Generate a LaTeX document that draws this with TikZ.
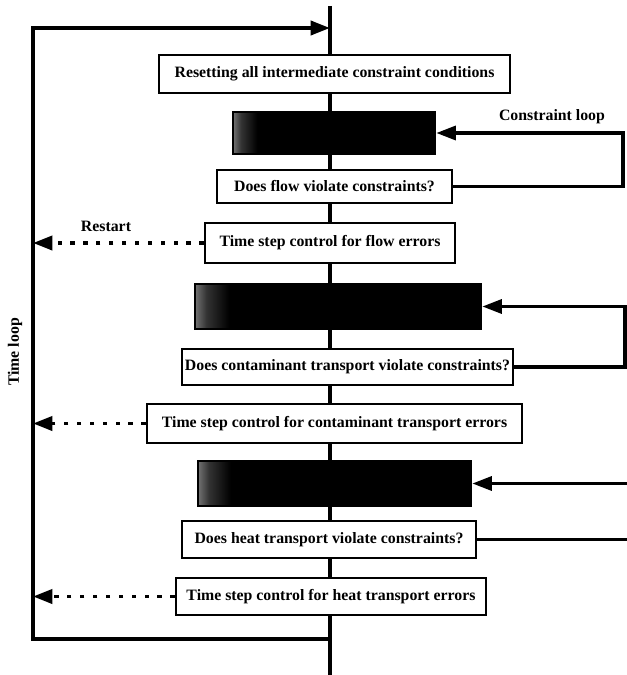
\documentclass[tikz,border=0pt]{standalone}
\usepackage{fontspec}
\setmainfont{Liberation Serif}
\usetikzlibrary{arrows.meta}
\pgfdeclarehorizontalshading{darkbar}{100bp}{color(0bp)=(black!55); color(25bp)=(black!55); color(27bp)=(black!80); color(31bp)=(black); color(100bp)=(black)}

\begin{document}
\begin{tikzpicture}[x=0.03cm, y=-0.03cm,
  every node/.style={font=\fontsize{13.5}{15}\selectfont\bfseries},
  stepbox/.style={draw, line width=2.4pt, fill=white, inner sep=0pt},
  darkbox/.style={draw, line width=2.4pt, shading=darkbar, inner sep=0pt},
  spine/.style={line width=2.6pt},
  loopline/.style={line width=2.6pt},
  restartline/.style={line width=3.2pt, dash pattern=on 3.6pt off 7.4pt},
  tip/.style={-{Triangle[length=0.58cm, width=0.42cm]}}]

\useasboundingbox (0,0) rectangle (627,675);

\coordinate (top) at (330,6);
\coordinate (bottom) at (330,675);
\coordinate (tl) at (33,28);
\coordinate (bl) at (33,639);
\coordinate (r1) at (623,150);
\coordinate (r2) at (625,330);
\coordinate (edge) at (627,500);

\draw[spine] (top) -- (bottom);

\node[stepbox, minimum width=10.53cm, minimum height=1.14cm] (reset) at (334.5,74) {Resetting all intermediate constraint conditions};
\node[darkbox, minimum width=6.06cm, minimum height=1.26cm] (calcflow) at (334,133) {};
\node[stepbox, minimum width=7.05cm, minimum height=0.99cm] (chkflow) at (334.5,186.5) {Does flow violate constraints?};
\node[stepbox, minimum width=7.5cm, minimum height=1.2cm] (dtflow) at (330,243) {Time step control for flow errors};
\node[darkbox, minimum width=8.58cm, minimum height=1.35cm] (calctrans) at (338,306.5) {};
\node[stepbox, minimum width=9.93cm, minimum height=1.08cm] (chktrans) at (347.5,367) {Does contaminant transport violate constraints?};
\node[stepbox, minimum width=11.25cm, minimum height=1.17cm] (dttrans) at (334.5,423.5) {Time step control for contaminant transport errors};
\node[darkbox, minimum width=8.19cm, minimum height=1.35cm] (calcheat) at (334.5,483.5) {};
\node[stepbox, minimum width=8.82cm, minimum height=1.11cm] (chkheat) at (329,539.5) {Does heat transport violate constraints?};
\node[stepbox, minimum width=9.3cm, minimum height=1.11cm] (dtheat) at (331,596.5) {Time step control for heat transport errors};

\draw[loopline, line width=3.2pt, tip] (bl -| top) -- (bl) -- (tl) -- (tl -| top);
\node[rotate=90] (timeloop) at (15,352) {Time loop};

\draw[restartline, tip] (dtflow.west) -- (dtflow.west -| tl);
\draw[restartline, tip] (dttrans.west) -- (dttrans.west -| tl);
\draw[restartline, tip] (dtheat.west) -- (dtheat.west -| tl);
\node (restart) at (106,226) {Restart};

\draw[loopline, tip] (chkflow.east) -- (chkflow.east -| r1) |- (calcflow.east);
\node (constraintloop) at (552,117) {Constraint loop};
\draw[loopline, tip] (chktrans.east) -- (chktrans.east -| r2) |- (calctrans.east);
\draw[loopline, tip] (calcheat.east -| edge) -- (calcheat.east);
\draw[loopline] (chkheat.east) -- (chkheat.east -| edge);
\end{tikzpicture}
\end{document}
